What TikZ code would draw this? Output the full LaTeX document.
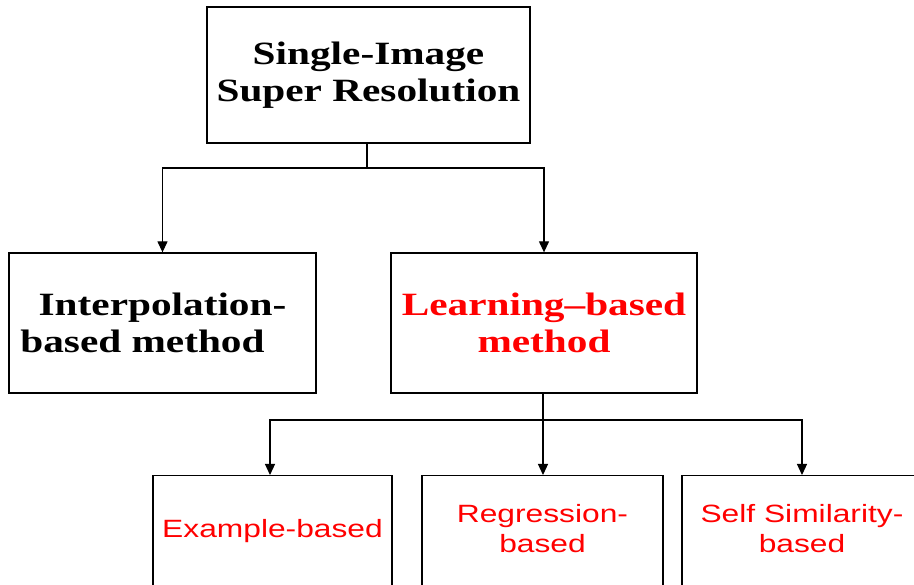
\documentclass[tikz,border=0pt]{standalone}
\usepackage{fontspec}
\usetikzlibrary{arrows.meta}
\newfontfamily\headserif{Liberation Serif}[FakeStretch=1.27,Ligatures=TeX]
\newfontfamily\leafsans{Liberation Sans}[FakeStretch=1.27,Ligatures=TeX]
\definecolor{leafred}{RGB}{255,0,0}
\begin{document}
\begin{tikzpicture}[x=1pt,y=-1pt,
  box/.style={draw=black,line width=1.3pt,inner sep=0pt,align=center,fill=white},
  headtext/.style={font=\headserif\bfseries\fontsize{32.5}{37}\selectfont},
  leafbox/.style={box,anchor=north,minimum width=240pt,minimum height=150pt,
    text depth=44pt,text=leafred,font=\leafsans\fontsize{25}{30}\selectfont},
  conn/.style={line width=1.2pt},
  arrow/.style={conn,-{Triangle[length=11pt,width=10pt]}}]
  \useasboundingbox (0,0) rectangle (914,585);
  \clip (0,0) rectangle (914,585);

  % root of the taxonomy
  \node[box,headtext,minimum width=323pt,minimum height=136pt] (root) at (368.5,75)
    {Single-Image\\Super Resolution};

  % second level
  \node[box,headtext,minimum width=307pt,minimum height=140pt] (interp) at (162.5,323)
    {Interpolation-\\based method\hspace*{40pt}};
  \node[box,headtext,text=leafred,minimum width=306pt,minimum height=140pt] (learn) at (544,323)
    {Learning–based\\method};

  % third level: learning-based families
  \node[leafbox,minimum width=239pt] (example) at (272.5,475) {Example-based};
  \node[leafbox,minimum width=241pt] (regress) at (542.5,475) {Regression-\\based};
  \node[leafbox] (selfsim) at (802,475) {Self Similarity-\\based};

  % connectors from the root
  \coordinate (j1) at (367,168);
  \draw[conn] (root.south -| j1) -- (j1);
  \draw[arrow] (j1) -| (interp.north);
  \draw[arrow] (j1) -| (learn.north);

  % connectors from the learning-based node
  \coordinate (j2) at (543,420);
  \draw[conn] (learn.south -| j2) -- (j2);
  \draw[arrow] (j2) -| (example.north -| 270,0);
  \draw[arrow] (j2) -- (regress.north -| j2);
  \draw[arrow] (j2) -| (selfsim.north);
\end{tikzpicture}
\end{document}
